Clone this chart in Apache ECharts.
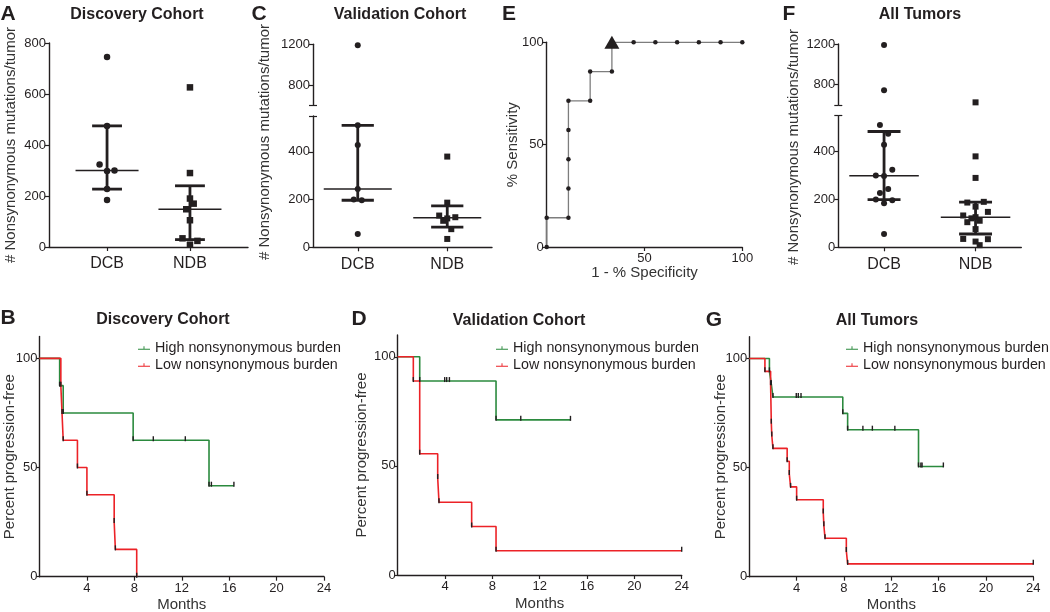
<!DOCTYPE html>
<html>
<head>
<meta charset="utf-8">
<script src="https://cdn.jsdelivr.net/npm/echarts@6/dist/echarts.min.js"></script>
</head>
<body style="margin:0;background:#fff">
<div id="main" style="width:1050px;height:612px"></div>
<script>
// ---- data ----
var groups = ['DCB', 'NDB'];

// A: discovery cohort, nonsynonymous mutations per tumor
var aDcb = [745, 475, 324, 298, 300, 227, 184];
var aDcbDodge = [0, 0, -1, 0, 1, 0, 0];
var aNdb = [626, 290, 190, 170, 148, 105, 34, 24, 9];
var aNdbDodge = [0, 0, 0, 0.5, -0.5, 0, -1, 1, 0];

// C: validation cohort
var cDcb = [1190, 511, 429, 244, 200, 197, 56];
var cDcbDodge = [0, 0, 0, 0, -0.5, 0.5, 0];
var cNdb = [380, 187, 133, 126, 121, 111, 76, 35];
var cNdbDodge = [0, 0, -1, 1, 0, -0.5, 0.5, 0];

// F: all tumors (A + C), own dodge
var fDcb = aDcb.concat(cDcb);
var fDcbDodge = [0, 0.5, 1, 0, -1, -0.5, 0, 0, -0.5, 0, 0.5, -1, 1, 0];
var fNdb = aNdb.concat(cNdb);
var fNdbDodge = [0, 0, 1, 0, 1.5, -1, 1.5, 0, 0.5, 0, -1, -1.5, 0, -0.5, 0.5, 0, -1.5];

// E: ROC
var rocX = [0, 0, 11.11, 11.11, 11.11, 11.11, 11.11, 22.22, 22.22, 33.33, 33.33, 44.44, 55.56, 66.67, 77.78, 88.89, 100];
var rocY = [0, 14.29, 14.29, 28.57, 42.86, 57.14, 71.43, 71.43, 85.71, 85.71, 100, 100, 100, 100, 100, 100, 100];
var rocCut = [33.33, 100];

// B / D: progression-free survival, months (event 1 = progression, 0 = censored)
var bHighTime = [1.7, 2.0, 7.9, 9.6, 12.3, 14.3, 14.5, 16.4];
var bHighEvent = [1, 1, 1, 0, 0, 1, 0, 0];
var bLowTime = [1.8, 1.9, 2.0, 3.2, 4.0, 6.3, 6.4, 8.2];
var bLowEvent = [1, 1, 1, 1, 1, 1, 1, 1];
var dHighTime = [1.86, 3.97, 4.14, 4.37, 8.31, 10.4, 10.4, 10.4, 14.6];
var dHighEvent = [1, 0, 0, 0, 1, 0, 0, 0, 0];
var dLowTime = [1.32, 1.86, 1.86, 1.86, 3.38, 3.49, 6.25, 8.31, 24];
var dLowEvent = [1, 1, 1, 1, 1, 1, 1, 1, 0];
// G = B + D
var gHighTime = bHighTime.concat(dHighTime), gHighEvent = bHighEvent.concat(dHighEvent);
var gLowTime = bLowTime.concat(dLowTime), gLowEvent = bLowEvent.concat(dLowEvent);

var highName = 'High nonsynonymous burden', lowName = 'Low nonsynonymous burden';

// ---- style ----
var ink = '#231f20', green = '#2b8a3e', red = '#ec2227', roc = '#7d7d7d';
var fontFam = "'Liberation Sans', Arial, sans-serif";
var step = 0.09;      // dodge step, x units
var breakAt = 575;    // split between upper/lower segment of broken axes

function quart(vals, p) {
    var s = vals.slice().sort(function (a, b) { return a - b; });
    var n = s.length, h = (n + 1) * p, lo = Math.floor(h), fr = h - lo;
    if (lo < 1) return s[0];
    if (lo >= n) return s[n - 1];
    return s[lo - 1] + fr * (s[lo] - s[lo - 1]);
}
function stats(x, vals) {
    return [x, quart(vals, 0.5), quart(vals, 0.25), quart(vals, 0.75)];
}
function pts(vals, dodge, xc, keep) {
    var out = [];
    vals.forEach(function (v, i) { if (!keep || keep(v)) out.push([xc + dodge[i] * step, v]); });
    return out;
}
function hi(v) { return v > breakAt; }
function lo(v) { return v <= breakAt; }

function km(times, events) {
    var idx = times.map(function (t, i) { return i; }).sort(function (a, b) { return times[a] - times[b] || events[b] - events[a]; });
    var n = times.length, atRisk = n, s = 100, line = [[0, 100]], marks = [], i = 0;
    while (i < n) {
        var t = times[idx[i]], d = 0, c = 0;
        while (i < n && times[idx[i]] === t) { if (events[idx[i]]) d++; else c++; i++; }
        if (d > 0) { s = s * (atRisk - d) / atRisk; line.push([t, s]); }
        marks.push([t, s]);
        atRisk -= d + c;
    }
    var last = times[idx[n - 1]];
    if (line[line.length - 1][0] < last) line.push([last, s]);
    return { line: line, marks: marks };
}

function grid(l, t, w, h) {
    return { left: l, top: t, width: w, height: h, containLabel: false, outerBoundsMode: 'none' };
}
function plain(v) { return String(v); }
function axis(g, min, max, o) {
    o = o || {};
    var a = {
        type: 'value', gridIndex: g, min: min, max: max, show: o.show !== false,
        axisLine: { show: true, onZero: false, lineStyle: { color: ink, width: 1.4 } },
        axisTick: { show: true, length: o.tickLen || 4, lineStyle: { color: ink, width: 1.2 } },
        axisLabel: { color: ink, fontSize: o.fontSize || 13, margin: o.margin || 3, formatter: o.formatter || plain },
        splitLine: { show: false }
    };
    if (o.interval) a.interval = o.interval;
    if (o.labels) a.axisLabel.customValues = o.labels;
    if (o.ticks) a.axisTick.customValues = o.ticks;
    if (o.hideMin) a.axisLabel.showMinLabel = false;
    if (o.name) {
        a.name = o.name; a.nameLocation = 'middle'; a.nameGap = o.nameGap; a.nameMoveOverlap = false;
        a.nameTextStyle = { fontSize: o.nameSize || 15, color: '#333' };
    }
    return a;
}
// inner half of the break caps on the broken axes
function capAxis(g, min, max, at) {
    return {
        type: 'value', gridIndex: g, min: min, max: max, position: 'left', offset: 0,
        axisLine: { show: false, onZero: false }, axisLabel: { show: false }, splitLine: { show: false },
        axisTick: { show: true, inside: true, length: 4, customValues: [at], lineStyle: { color: ink, width: 1.2 } }
    };
}
function groupFmt(v) { return groups[Math.round(v) - 1] || ''; }
function catAxis(g, min, max, margin) {
    return axis(g, min, max, { labels: [1, 2], ticks: [1, 2], formatter: groupFmt, fontSize: 16, margin: margin });
}

function dots(g, data, shape, size) {
    return { type: 'scatter', xAxisIndex: g, yAxisIndex: g, data: data, symbol: shape, symbolSize: size,
        itemStyle: { color: ink, opacity: 1 }, clip: false, silent: true, z: 3 };
}
function bars(g, data) {
    return {
        type: 'custom', xAxisIndex: g, yAxisIndex: g, data: data, silent: true, z: 4,
        renderItem: function (params, api) {
            var x = api.value(0), med = api.value(1), q1 = api.value(2), q3 = api.value(3);
            var capW = 0.18, medW = 0.38;
            var segs = [
                [[x, q1], [x, q3], 2.8],
                [[x - capW, q1], [x + capW, q1], 2.8],
                [[x - capW, q3], [x + capW, q3], 2.8],
                [[x - medW, med], [x + medW, med], 1.5]
            ];
            return {
                type: 'group',
                children: segs.map(function (sg) {
                    var p1 = api.coord(sg[0]), p2 = api.coord(sg[1]);
                    return { type: 'line', shape: { x1: p1[0], y1: p1[1], x2: p2[0], y2: p2[1] },
                        style: { stroke: ink, lineWidth: sg[2] } };
                })
            };
        }
    };
}
function kmSeries(g, name, color, times, events) {
    var r = km(times, events);
    return [
        { type: 'line', name: name, xAxisIndex: g, yAxisIndex: g, data: r.line, step: 'end', symbol: 'none',
          lineStyle: { color: color, width: 1.6 }, itemStyle: { color: color }, silent: true, z: 2, clip: false },
        { type: 'scatter', xAxisIndex: g, yAxisIndex: g, data: r.marks, symbol: 'rect', symbolSize: [1.4, 5],
          symbolOffset: [0, -1.5], itemStyle: { color: ink, opacity: 1 }, silent: true, z: 3, clip: false }
    ];
}
var legendIcon = 'path://M0,6H20V7.6H0Z M9.2,2H10.8V6H9.2Z';
function kmLegend(left, top) {
    return {
        left: left, top: top, orient: 'vertical', itemGap: 3, itemWidth: 12, itemHeight: 6,
        selectedMode: false, padding: 0,
        textStyle: { fontSize: 14.3, color: ink, fontFamily: fontFam },
        data: [{ name: highName, icon: legendIcon }, { name: lowName, icon: legendIcon }]
    };
}
function txt(text, x, y, size, bold, rot, color) {
    return { type: 'text', x: x, y: y, rotation: rot || 0, silent: true,
        style: { text: text, fill: color || ink, align: 'center', verticalAlign: 'middle',
            font: (bold ? 'bold ' : '') + size + 'px ' + fontFam } };
}

var yName = '# Nonsynonymous mutations/tumor';
var kmY = 'Percent progression-free';

var option = {
    animation: false,
    textStyle: { fontFamily: fontFam },
    grid: [
        grid(49, 43, 199, 204),          // 0 A
        grid(313, 44.3, 179, 61),        // 1 C upper
        grid(313, 116, 179, 131.3),      // 2 C lower
        grid(546.7, 42.3, 195.6, 204.7), // 3 E
        grid(838.3, 44, 183, 61),        // 4 F upper
        grid(838.3, 115.7, 183, 131.6),  // 5 F lower
        grid(39.5, 336.5, 284.5, 240.2), // 6 B
        grid(397.7, 335, 284, 240),      // 7 D
        grid(749.3, 336.7, 284, 240)     // 8 G
    ],
    xAxis: [
        catAxis(0, 0.3, 2.7, 9),
        axis(1, 0.5, 2.5, { show: false }),
        catAxis(2, 0.5, 2.5, 9),
        axis(3, 0, 100, { labels: [50, 100], ticks: [50, 100], margin: 5, name: '1 - % Specificity', nameGap: 18 }),
        axis(4, 0.5, 2.5, { show: false }),
        catAxis(5, 0.5, 2.5, 9),
        axis(6, 0, 24, { interval: 4, hideMin: true, margin: 5, name: 'Months', nameGap: 21 }),
        axis(7, 0, 24, { interval: 4, hideMin: true, margin: 5, name: 'Months', nameGap: 21 }),
        axis(8, 0, 24, { interval: 4, hideMin: true, margin: 5, name: 'Months', nameGap: 21 })
    ],
    yAxis: [
        axis(0, 0, 800, { interval: 200, name: yName, nameGap: 31 }),
        axis(1, 600, 1200, { labels: [800, 1200], ticks: [600, 800, 1200] }),
        axis(2, 0, 550, { labels: [0, 200, 400], ticks: [0, 200, 400, 550] }),
        axis(3, 0, 100, { interval: 50, name: '% Sensitivity', nameGap: 26 }),
        axis(4, 600, 1200, { labels: [800, 1200], ticks: [600, 800, 1200] }),
        axis(5, 0, 550, { labels: [0, 200, 400], ticks: [0, 200, 400, 550] }),
        axis(6, 0, 110, { labels: [0, 50, 100], ticks: [0, 50, 100], tickLen: 3, margin: 2, name: kmY, nameGap: 22 }),
        axis(7, 0, 110, { labels: [0, 50, 100], ticks: [0, 50, 100], tickLen: 3, margin: 2, name: kmY, nameGap: 28 }),
        axis(8, 0, 110, { labels: [0, 50, 100], ticks: [0, 50, 100], tickLen: 3, margin: 2, name: kmY, nameGap: 21 }),
        capAxis(1, 600, 1200, 600), capAxis(2, 0, 550, 550),
        capAxis(4, 600, 1200, 600), capAxis(5, 0, 550, 550)
    ],
    legend: [kmLegend(138, 341), kmLegend(496, 341), kmLegend(846, 341)],
    graphic: [
        txt('A', 8, 14, 21, true), txt('C', 259, 14, 21, true), txt('E', 509, 14, 21, true), txt('F', 789, 14, 21, true),
        txt('B', 8, 318, 21, true), txt('D', 359, 319, 21, true), txt('G', 714, 320, 21, true),
        txt('Discovery Cohort', 137, 15, 16, true), txt('Validation Cohort', 400, 15, 16, true),
        txt('All Tumors', 920, 15, 16, true),
        txt('Discovery Cohort', 163, 320, 16, true), txt('Validation Cohort', 519, 321, 16, true),
        txt('All Tumors', 877, 321, 16, true),
        txt(yName, 265, 142, 15, false, Math.PI / 2, '#333'),
        txt(yName, 794, 147, 15, false, Math.PI / 2, '#333')
    ],
    series: []
};

var S = option.series;
// A
S.push(dots(0, pts(aDcb, aDcbDodge, 1), 'circle', 6.5));
S.push(dots(0, pts(aNdb, aNdbDodge, 2), 'rect', 6.5));
S.push(bars(0, [stats(1, aDcb), stats(2, aNdb)]));
// C (broken axis)
S.push(dots(1, pts(cDcb, cDcbDodge, 1, hi), 'circle', 6));
S.push(dots(1, pts(cNdb, cNdbDodge, 2, hi), 'rect', 6));
S.push(dots(2, pts(cDcb, cDcbDodge, 1, lo), 'circle', 6));
S.push(dots(2, pts(cNdb, cNdbDodge, 2, lo), 'rect', 6));
S.push(bars(2, [stats(1, cDcb), stats(2, cNdb)]));
// E
S.push({ type: 'line', xAxisIndex: 3, yAxisIndex: 3, data: rocX.map(function (x, i) { return [x, rocY[i]]; }),
    symbol: 'circle', symbolSize: 4.5, showSymbol: true, itemStyle: { color: ink, opacity: 1 },
    lineStyle: { color: roc, width: 1.3 }, silent: true, clip: false });
S.push({ type: 'scatter', xAxisIndex: 3, yAxisIndex: 3, data: [rocCut], symbol: 'triangle', symbolSize: [15, 13],
    itemStyle: { color: ink, opacity: 1 }, silent: true, clip: false, z: 4 });
// F (broken axis)
S.push(dots(4, pts(fDcb, fDcbDodge, 1, hi), 'circle', 6));
S.push(dots(4, pts(fNdb, fNdbDodge, 2, hi), 'rect', 6));
S.push(dots(5, pts(fDcb, fDcbDodge, 1, lo), 'circle', 6));
S.push(dots(5, pts(fNdb, fNdbDodge, 2, lo), 'rect', 6));
S.push(bars(5, [stats(1, fDcb), stats(2, fNdb)]));
// B, D, G
[[6, bHighTime, bHighEvent, bLowTime, bLowEvent],
 [7, dHighTime, dHighEvent, dLowTime, dLowEvent],
 [8, gHighTime, gHighEvent, gLowTime, gLowEvent]].forEach(function (p) {
    kmSeries(p[0], highName, green, p[1], p[2]).forEach(function (s) { S.push(s); });
    kmSeries(p[0], lowName, red, p[3], p[4]).forEach(function (s) { S.push(s); });
});

var chart = echarts.init(document.getElementById('main'));
chart.setOption(option);
</script>
</body>
</html>
